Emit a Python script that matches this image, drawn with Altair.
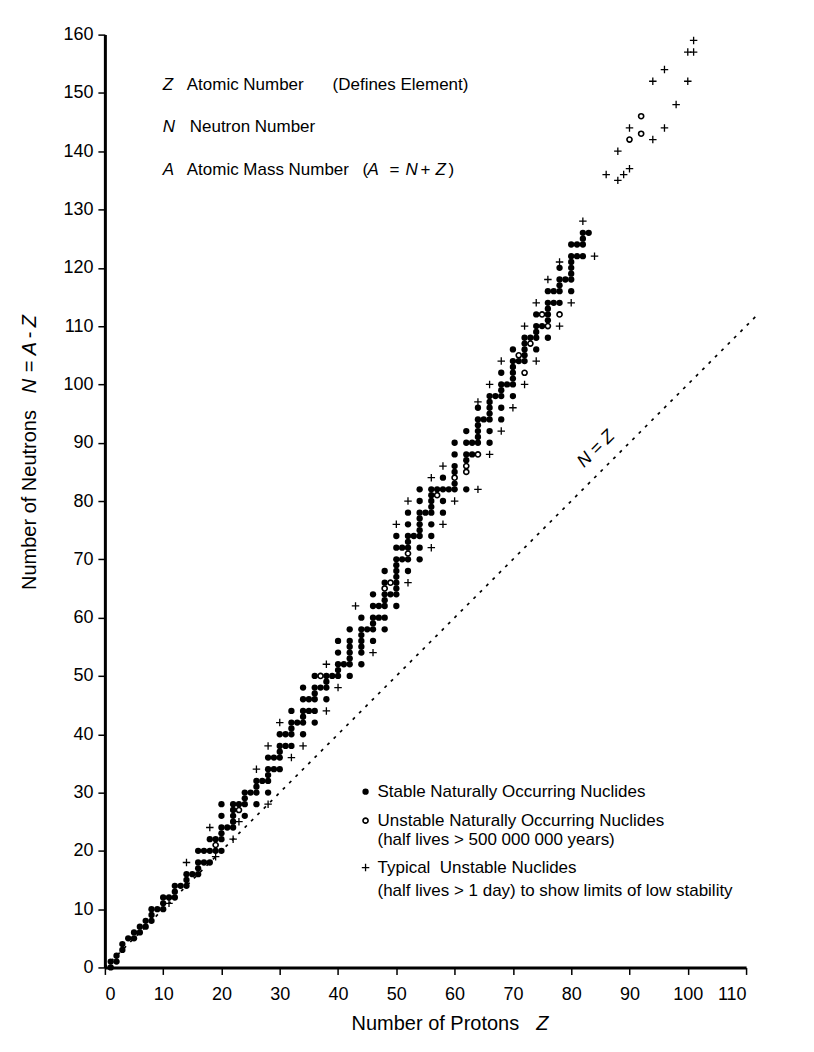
import altair as alt
import pandas as pd

# (Z, N) pairs
stable = [
    (1,0),(1,1),(2,1),(2,2),(3,3),(3,4),(4,5),(5,5),(5,6),(6,6),(6,7),(7,7),(7,8),
    (8,8),(8,9),(8,10),(9,10),(10,10),(10,11),(10,12),(11,12),(12,12),(12,13),(12,14),
    (13,14),(14,14),(14,15),(14,16),(15,16),(16,16),(16,17),(16,18),(16,20),(17,18),(17,20),
    (18,18),(18,20),(18,22),(19,20),(19,22),(20,20),(20,22),(20,23),(20,24),(20,26),(20,28),
    (21,24),(22,24),(22,25),(22,26),(22,27),(22,28),(23,28),(24,26),(24,28),(24,29),(24,30),
    (25,30),(26,28),(26,30),(26,31),(26,32),(27,32),(28,30),(28,32),(28,33),(28,34),(28,36),
    (29,34),(29,36),(30,34),(30,36),(30,37),(30,38),(30,40),(31,38),(31,40),
    (32,38),(32,40),(32,41),(32,42),(32,44),(33,42),(34,40),(34,42),(34,43),(34,44),(34,46),(34,48),
    (35,44),(35,46),(36,42),(36,44),(36,46),(36,47),(36,48),(36,50),(37,48),
    (38,46),(38,48),(38,49),(38,50),(39,50),(40,50),(40,51),(40,52),(40,54),(40,56),(41,52),
    (42,50),(42,52),(42,53),(42,54),(42,55),(42,56),(42,58),
    (44,52),(44,54),(44,55),(44,56),(44,57),(44,58),(44,60),(45,58),
    (46,56),(46,58),(46,59),(46,60),(46,62),(46,64),(47,60),(47,62),
    (48,58),(48,60),(48,62),(48,63),(48,64),(48,66),(48,68),(49,64),
    (50,62),(50,64),(50,65),(50,66),(50,67),(50,68),(50,69),(50,70),(50,72),(50,74),
    (51,70),(51,72),(52,68),(52,70),(52,72),(52,73),(52,74),(52,76),(52,78),(53,74),
    (54,70),(54,72),(54,74),(54,75),(54,76),(54,77),(54,78),(54,80),(54,82),(55,78),
    (56,74),(56,76),(56,78),(56,79),(56,80),(56,81),(56,82),(57,82),
    (58,78),(58,80),(58,82),(58,84),(59,82),(60,82),(60,83),(60,85),(60,86),(60,88),(60,90),
    (62,82),(62,87),(62,88),(62,90),(62,92),(63,88),(63,90),
    (64,90),(64,91),(64,92),(64,93),(64,94),(64,96),(65,94),
    (66,90),(66,92),(66,94),(66,95),(66,96),(66,97),(66,98),(67,98),
    (68,94),(68,96),(68,98),(68,99),(68,100),(68,102),(69,100),
    (70,98),(70,100),(70,101),(70,102),(70,103),(70,104),(70,106),(71,104),
    (72,104),(72,105),(72,106),(72,107),(72,108),(73,108),
    (74,106),(74,108),(74,109),(74,110),(74,112),(75,110),
    (76,108),(76,111),(76,112),(76,113),(76,114),(76,116),(77,114),(77,116),
    (78,114),(78,116),(78,117),(78,118),(78,120),(79,118),
    (80,116),(80,118),(80,119),(80,120),(80,121),(80,122),(80,124),(81,122),(81,124),
    (82,122),(82,124),(82,125),(82,126),(83,126),
]

unstable_natural = [
    (19,21),(23,27),(37,50),(48,65),(49,66),(52,71),(57,81),(60,84),(62,85),(62,86),
    (64,88),(71,105),(72,102),(73,107),(75,112),(76,110),(78,112),(90,142),(92,143),(92,146),
]

typical_unstable = [
    (11,11),(14,18),(19,19),(18,24),(22,22),(23,25),(26,34),(28,28),(28,38),(30,42),
    (32,36),(34,38),(38,44),(38,52),(40,48),(43,62),(46,54),(50,76),(52,66),(52,80),
    (56,72),(56,84),(58,76),(58,86),(60,80),(64,82),(64,97),(66,88),(66,100),(68,92),
    (68,104),(70,96),(72,100),(72,110),(74,104),(74,114),(76,118),(78,110),(78,121),
    (80,114),(82,128),(84,122),(86,136),(88,135),(88,140),(89,136),(90,137),(90,144),
    (94,142),(94,152),(96,144),(96,154),(98,148),(100,152),(100,157),(101,157),(101,159),
]

n_equals_z = [0, 112]
x_ticks = [0, 10, 20, 30, 40, 50, 60, 70, 80, 90, 100, 110]
y_ticks = [0, 10, 20, 30, 40, 50, 60, 70, 80, 90, 100, 110, 120, 130, 140, 150, 160]

FONT = "Liberation Sans"
FS = 17
TFS = 20
PLUS = "M-1,0H1M0,-1V1"


def frame(pairs):
    return pd.DataFrame(pairs, columns=["Z", "N"])


xs = alt.Scale(domain=[0, 110], nice=False, zero=False)
ys = alt.Scale(domain=[0, 160], nice=False, zero=False)

axis_common = dict(
    title=None, grid=False, domainColor="black", domainWidth=3,
    tickColor="black", tickWidth=1.5, tickSize=7,
    labelFont=FONT, labelFontSize=18, labelColor="black",
)
X = alt.X("Z:Q", scale=xs, axis=alt.Axis(values=x_ticks, labelPadding=11, **axis_common))
Y = alt.Y("N:Q", scale=ys, axis=alt.Axis(values=y_ticks, labelPadding=5, **axis_common))

line_df = pd.DataFrame({"Z": n_equals_z, "N": n_equals_z})
nz = alt.Chart(line_df).mark_line(
    color="black", strokeWidth=1.7, strokeDash=[3, 6], clip=False
).encode(x=X, y=Y)

dots = alt.Chart(frame(stable)).mark_point(
    shape="circle", filled=True, color="black", size=40, opacity=1
).encode(x=X, y=Y)

circles = alt.Chart(frame(unstable_natural)).mark_point(
    shape="circle", filled=False, color="black", strokeWidth=1.6, size=26, opacity=1
).encode(x=X, y=Y)

pluses = alt.Chart(frame(typical_unstable)).mark_point(
    shape=PLUS, filled=False, color="black", strokeWidth=1.3, size=56, opacity=1
).encode(x=X, y=Y)

dummy = pd.DataFrame({"_": [0]})


def label(text, x, y, italic=False, angle=0, align="left", size=FS):
    kw = dict(font=FONT, fontSize=size, color="black", align=align, baseline="middle")
    if italic:
        kw["fontStyle"] = "italic"
    if angle:
        kw["angle"] = angle
    return alt.Chart(dummy).mark_text(**kw).encode(
        x=alt.value(x), y=alt.value(y), text=alt.value(text)
    )


def symbol(shape, x, y, filled, size, sw=1.4):
    return alt.Chart(dummy).mark_point(
        shape=shape, filled=filled, color="black", size=size, strokeWidth=sw, opacity=1
    ).encode(x=alt.value(x), y=alt.value(y))


texts = [
    # definitions at top-left
    label("Z", 58, 50, italic=True),
    label("Atomic Number", 82, 50),
    label("(Defines Element)", 228, 50),
    label("N", 58, 93, italic=True),
    label("Neutron Number", 85, 93),
    label("A", 58, 136, italic=True),
    label("Atomic Mass Number", 82, 136),
    label("(", 258, 136),
    label("A", 263, 136, italic=True),
    label("=", 285, 136),
    label("N", 301, 136, italic=True),
    label("+", 316, 136),
    label("Z", 331, 136, italic=True),
    label(")", 344, 136),
    # N = Z label
    label("N = Z", 492, 415, italic=True, angle=315, align="center", size=18),
    # legend
    symbol("circle", 261, 758, True, 40),
    label("Stable Naturally Occurring Nuclides", 273, 758),
    symbol("circle", 261, 787, False, 26, 1.6),
    label("Unstable Naturally Occurring Nuclides", 273, 787),
    label("(half lives > 500 000 000 years)", 273, 806),
    symbol(PLUS, 261, 834, False, 56, 1.3),
    label("Typical\u00a0 Unstable Nuclides", 273, 834),
    label("(half lives > 1 day) to show limits of low stability", 273, 857),
    # x-axis title
    label("Number of Protons", 247, 991, size=TFS),
    label("Z", 432, 991, italic=True, size=TFS),
    # y-axis title (rotated)
    label("Number of Neutrons", -75, 556, angle=270, size=TFS),
    label("N", -75, 359, italic=True, angle=270, size=TFS),
    label("=", -75, 338, angle=270, size=TFS),
    label("A", -75, 321, italic=True, angle=270, size=TFS),
    label("-", -75, 304, angle=270, size=TFS),
    label("Z", -75, 293, italic=True, angle=270, size=TFS),
]

chart = alt.layer(nz, dots, circles, pluses, *texts).properties(
    width=642,
    height=934,
    autosize=alt.AutoSizeParams(type="none"),
    padding={"left": 97, "top": 26, "right": 60, "bottom": 70},
    background="white",
).configure_view(stroke=None)

chart.save("out.html", embed_options={"renderer": "svg", "actions": False})
